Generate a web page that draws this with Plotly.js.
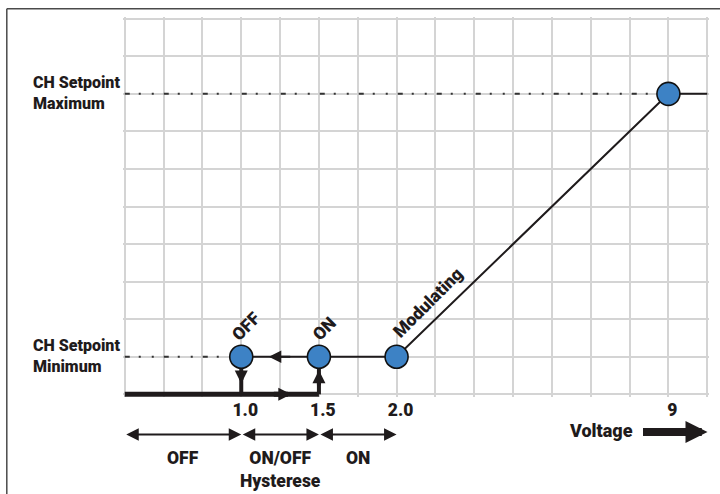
<!DOCTYPE html>
<html><head><meta charset="utf-8">
<script src="https://cdn.plot.ly/plotly-3.0.1.min.js"></script>
<style>html,body{margin:0;padding:0;background:#fff}</style>
</head><body><div id="chart" style="width:720px;height:494px"></div>
<script>
// ---- data (schematic grid units: x = grid columns, y = grid rows) ----
const voltageLabels = ['1.0', '1.5', '2.0', '9'];
const voltageX = [3, 5, 7, 14];
const pointY = [1, 1, 1, 8];
const pointLabels = ['OFF', 'ON', 'Modulating', ''];
const curveX = [3, 5, 7, 14, 15];
const curveY = [1, 1, 1, 8, 8];
const setpointNames = ['CH Setpoint<br>Minimum', 'CH Setpoint<br>Maximum'];
const setpointLevels = [1, 8];
const setpointEndX = [3, 14];
const zoneLabels = ['OFF', 'ON/OFF<br>Hysterese', 'ON'];
const zoneStart = [0, 3, 5];
const zoneEnd = [3, 5, 7];
const baseX = [0, 3, 5];
const baseY = [0, 0, 0];
const xMax = 15, yMax = 10;

// ---- layout geometry ----
const W = 720, H = 494;
const colPx = 38.85, rowPx = 37.5;
const xPad = 0.045, yPadTop = 0.045, yPadBot = 0.07;
const xRange = [-xPad, xMax + xPad];
const yRange = [-yPadBot, yMax + yPadTop];
const mL = 125 - xPad * colPx;
const plotW = (xRange[1] - xRange[0]) * colPx;
const mT = 19 - yPadTop * rowPx;
const plotH = (yRange[1] - yRange[0]) * rowPx;
const mR = W - mL - plotW, mB = H - mT - plotH;
const plotBottom = mT + plotH;
const px = p => (p - mL) / plotW;
const py = p => (plotBottom - p) / plotH;

const FONT = 'Roboto, "Liberation Sans", sans-serif';
const WT = 900;
const INK = '#1f1b1c';
const GRID = '#d4d4d4';
const BLUE = '#3d82c5';
const labelShiftX = [5, 5, 31, 0];
const labelShiftY = [31, 28, 54, 0];

const traces = [];
// dash-dot guide lines to setpoint levels
setpointLevels.forEach((lv, i) => {
  traces.push({x: [0, setpointEndX[i]], y: [lv, lv], mode: 'lines', hoverinfo: 'skip',
    line: {color: '#333', width: 2, dash: '5px,9px,2px,11px,2px,10px'}});
});
// thick base line and vertical switching lines
traces.push({x: baseX, y: baseY, mode: 'lines', hoverinfo: 'skip', line: {color: INK, width: 5}});
[0, 1].forEach(i => {
  traces.push({x: [voltageX[i], voltageX[i]], y: [0, pointY[i]], mode: 'lines', hoverinfo: 'skip',
    line: {color: INK, width: 4}});
});
// characteristic curve
traces.push({x: curveX, y: curveY, mode: 'lines', hoverinfo: 'skip', line: {color: INK, width: 2}});
// points
traces.push({x: voltageX, y: pointY, mode: 'markers', hoverinfo: 'skip', cliponaxis: false,
  marker: {size: 23, color: BLUE, line: {color: '#111', width: 1.6}}});

const ann = [];
// rotated point labels
pointLabels.forEach((t, i) => {
  if (!t) return;
  ann.push({x: voltageX[i], y: pointY[i], xref: 'x', yref: 'y', text: t, showarrow: false,
    textangle: -45, xshift: labelShiftX[i], yshift: labelShiftY[i],
    font: {family: FONT, size: 17.5, color: INK, weight: WT}});
});
// setpoint names
setpointNames.forEach((t, i) => {
  ann.push({x: px(31), y: setpointLevels[i], xref: 'paper', yref: 'y', text: t, showarrow: false,
    xanchor: 'left', align: 'left', yanchor: 'middle', yshift: 1,
    font: {family: FONT, size: 16, color: INK, weight: WT}});
});
// zone arrows + labels
zoneLabels.forEach((t, i) => {
  ann.push({x: zoneEnd[i], y: py(434), xref: 'x', yref: 'paper', axref: 'x', ax: zoneStart[i],
    ayref: 'pixel', ay: 0, text: '', showarrow: true, arrowside: 'end+start',
    arrowhead: 2, startarrowhead: 2, arrowsize: 1.25, startarrowsize: 1.25, arrowwidth: 2, arrowcolor: INK});
  ann.push({x: (zoneStart[i] + zoneEnd[i]) / 2, y: py(446), xref: 'x', yref: 'paper', text: t,
    showarrow: false, yanchor: 'top', xanchor: 'center', align: 'center',
    font: {family: FONT, size: 17.5, color: INK, weight: WT}});
});
// direction arrows on the hysteresis loop
ann.push({x: 4.29, y: 0, xref: 'x', yref: 'y', axref: 'x', ax: 3.8, ayref: 'y', ay: 0, text: '',
  showarrow: true, arrowhead: 2, arrowsize: 0.52, arrowwidth: 5, arrowcolor: INK});
ann.push({x: 3.71, y: 1, xref: 'x', yref: 'y', axref: 'x', ax: 4.3, ayref: 'y', ay: 1, text: '',
  showarrow: true, arrowhead: 2, arrowsize: 1.25, arrowwidth: 2, arrowcolor: INK});
ann.push({x: 3, y: 0.29, xref: 'x', yref: 'y', axref: 'x', ax: 3, ayref: 'y', ay: 0.65, text: '',
  showarrow: true, arrowhead: 2, arrowsize: 0.65, arrowwidth: 4, arrowcolor: INK});
ann.push({x: 5, y: 0.64, xref: 'x', yref: 'y', axref: 'x', ax: 5, ayref: 'y', ay: 0.2, text: '',
  showarrow: true, arrowhead: 2, arrowsize: 0.65, arrowwidth: 4, arrowcolor: INK});
// Voltage label and big arrow
ann.push({x: px(601), y: py(430), xref: 'paper', yref: 'paper', text: 'Voltage', showarrow: false,
  xanchor: 'center', yanchor: 'middle',
  font: {family: FONT, size: 18, color: INK, weight: WT}});
ann.push({x: px(708), y: py(431.5), xref: 'paper', yref: 'paper', ax: -66, ay: 0, text: '',
  showarrow: true, arrowhead: 2, arrowsize: 0.55, arrowwidth: 8, arrowcolor: INK});

const layout = {
  width: W, height: H,
  margin: {l: mL, r: mR, t: mT, b: mB, pad: 0},
  paper_bgcolor: '#fff', plot_bgcolor: '#fff',
  showlegend: false,
  xaxis: {range: xRange, tickmode: 'array', tickvals: voltageX, ticktext: voltageLabels,
    showgrid: true, gridcolor: GRID, gridwidth: 2, zeroline: false, showline: false, ticks: '',
    ticklabelshift: 4, tickfont: {family: FONT, size: 17.5, color: INK, weight: WT},
    minor: {tickmode: 'linear', tick0: 0, dtick: 1, showgrid: true, gridcolor: GRID, gridwidth: 2},
    fixedrange: true},
  yaxis: {range: yRange, tickmode: 'linear', tick0: 0, dtick: 1, showticklabels: false,
    showgrid: true, gridcolor: GRID, gridwidth: 2, zeroline: false, showline: false, ticks: '',
    fixedrange: true},
  annotations: ann,
  shapes: [
    {type: 'line', xref: 'paper', yref: 'paper', x0: px(7), x1: px(721), y0: py(9), y1: py(9),
      line: {color: '#4a4a4a', width: 1.5}},
    {type: 'line', xref: 'paper', yref: 'paper', x0: px(7), x1: px(7), y0: py(9), y1: py(495),
      line: {color: '#4a4a4a', width: 1.5}}
  ]
};

Plotly.newPlot('chart', traces, layout, {displayModeBar: false, staticPlot: true});
</script>
</body></html>
